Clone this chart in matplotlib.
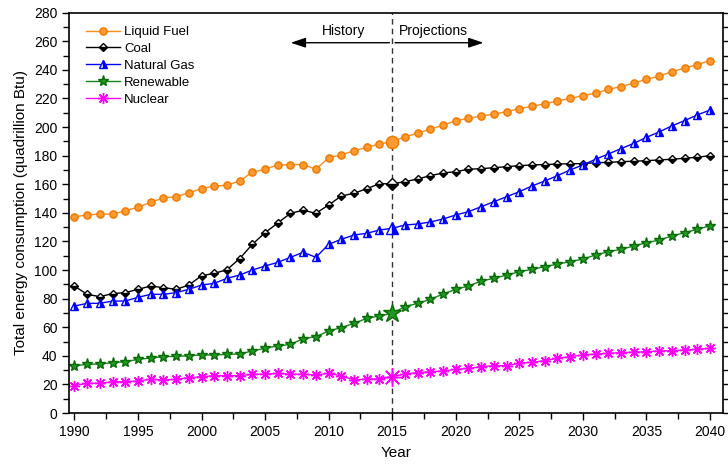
import numpy as np
import matplotlib
matplotlib.use('Agg')
from matplotlib import pyplot as plt
from matplotlib.ticker import MultipleLocator

plt.rcParams['font.family'] = ['Liberation Sans', 'DejaVu Sans']

years = np.arange(1990, 2041)

liquid_fuel = [137.3, 138.5, 139.2, 139.0, 141.5, 143.9, 147.4, 150.4, 151.3, 154.1,
               156.9, 158.8, 159.3, 162.3, 168.4, 170.5, 173.5, 173.7, 173.8, 170.5,
               178.6, 180.5, 183.5, 185.8, 188.2, 189.8,
               193.3, 195.6, 198.7, 201.2, 204.5, 206.1, 207.7, 209.1, 210.8, 212.9,
               214.5, 216.4, 218.2, 220.1, 222.0, 223.6, 226.4, 228.3, 230.8, 233.4,
               235.7, 238.7, 241.3, 243.6, 246.5]
coal = [88.8, 83.0, 81.4, 83.5, 84.2, 86.5, 88.8, 87.7, 86.5, 89.5,
        96.0, 97.7, 100.2, 108.0, 118.0, 126.1, 132.9, 139.7, 141.8, 139.7,
        145.5, 151.8, 153.7, 156.9, 160.4, 160.3,
        161.8, 163.7, 166.0, 167.9, 168.8, 170.5, 170.9, 171.6, 172.3, 173.0,
        173.5, 173.8, 174.1, 174.4, 174.4, 175.1, 175.3, 175.8, 176.1, 176.5,
        177.0, 177.5, 178.2, 178.9, 180.0]
natural_gas = [74.8, 76.7, 76.7, 78.3, 78.3, 80.9, 83.0, 83.0, 84.2, 86.5,
               89.5, 90.7, 94.2, 96.5, 100.0, 102.8, 105.4, 108.9, 112.4, 108.9,
               118.0, 121.5, 124.5, 125.7, 128.0, 129.2,
               131.5, 132.2, 133.6, 135.7, 138.5, 140.8, 144.3, 147.8, 151.3, 154.8,
               158.8, 162.3, 166.0, 170.0, 173.5, 177.5, 181.2, 184.9, 188.6, 192.8,
               196.6, 200.8, 204.5, 208.5, 211.9]
renewable = [33.1, 34.0, 34.3, 35.2, 35.9, 37.5, 38.5, 39.4, 39.6, 40.1,
             40.6, 40.6, 41.0, 41.3, 43.4, 45.3, 46.9, 48.0, 52.0, 53.4,
             57.4, 59.7, 62.7, 66.2, 67.9, 69.7,
             74.4, 76.7, 79.5, 83.2, 86.5, 88.8, 92.3, 94.2, 96.5, 98.8,
             100.5, 102.3, 104.2, 105.8, 107.7, 110.5, 112.8, 114.5, 116.8, 119.1,
             121.0, 123.8, 126.1, 128.5, 131.0]
nuclear = [19.1, 20.8, 20.8, 21.9, 21.9, 22.4, 23.6, 23.1, 23.6, 24.7,
           25.4, 26.1, 26.1, 26.1, 27.1, 27.1, 27.8, 27.1, 27.1, 26.6,
           27.8, 25.9, 23.1, 23.8, 23.8, 25.4,
           27.3, 28.2, 28.9, 29.4, 30.5, 31.2, 32.4, 33.1, 33.1, 34.8,
           35.5, 36.6, 38.3, 39.4, 40.6, 41.3, 41.7, 42.2, 42.5, 42.9,
           43.4, 43.6, 44.1, 44.5, 45.3]

base_year = 2015

series = [
    ('Liquid Fuel', liquid_fuel, dict(color='#FF8C1A', marker='o', ms=5.2, mec='#F07800', mfc='#FF9A30')),
    ('Coal', coal, dict(color='black', marker='D', ms=3.6, mec='black', mfc='black', fillstyle='bottom', markerfacecoloralt='white')),
    ('Natural Gas', natural_gas, dict(color='#0000FF', marker='^', ms=5.2, mec='#0000FF', mfc='#0000FF', fillstyle='right', markerfacecoloralt='white')),
    ('Renewable', renewable, dict(color='#118811', marker='*', ms=8, mec='#0A6A0A', mfc='#1E9A1E')),
    ('Nuclear', nuclear, dict(color='#FF00FF', marker=(8, 2, 0), ms=8, mec='#FF00FF', mew=1.0)),
]

fig = plt.figure(figsize=(7.28, 4.69), dpi=100)
ax = fig.add_axes([0.0952, 0.1194, 0.8975, 0.8535])

i0 = list(years).index(base_year)
for name, vals, style in series:
    ax.plot(years, vals, lw=1.0, label=name, **style)
    # bigger marker on the last historical year
    big = dict(style)
    big['ms'] = style['ms'] * 1.7
    big.pop('color')
    ax.plot([base_year], [vals[i0]], ls='none', zorder=4, **big)

ax.axvline(base_year, color='#333333', ls=(0, (4, 3)), lw=1.0, zorder=1)

ax.annotate('', xy=(2006.8, 259), xytext=(base_year, 259),
            arrowprops=dict(arrowstyle='-|>,head_length=0.9,head_width=0.3', color='black', lw=1.0))
ax.annotate('', xy=(2022.4, 259), xytext=(base_year, 259),
            arrowprops=dict(arrowstyle='-|>,head_length=0.9,head_width=0.3', color='black', lw=1.0))
ax.text(2011.2, 267, 'History', ha='center', va='center', fontsize=10)
ax.text(2015.5, 267, 'Projections', ha='left', va='center', fontsize=10)

ax.set_xlim(1989.6, 2041.0)
ax.set_ylim(0, 280)
ax.xaxis.set_major_locator(MultipleLocator(5))
ax.xaxis.set_minor_locator(MultipleLocator(2.5))
ax.yaxis.set_major_locator(MultipleLocator(20))
ax.yaxis.set_minor_locator(MultipleLocator(10))
ax.tick_params(which='both', direction='out', labelsize=10, width=1.0)
ax.tick_params(which='major', length=5)
ax.tick_params(which='minor', length=4)
ax.tick_params(axis='y', which='both', right=True, labelright=False)

for sp in ax.spines.values():
    sp.set_linewidth(1.2)

ax.set_xlabel('Year', fontsize=11, labelpad=5)
ax.set_ylabel('Total energy consumption (quadrillion Btu)', fontsize=11, labelpad=4)

ax.legend(loc='upper left', frameon=False, fontsize=9.5, handlelength=2.6,
          handletextpad=0.3, labelspacing=0.35, borderaxespad=0.6, bbox_to_anchor=(0.005, 1.0))

fig.savefig('out.png', dpi=100)
